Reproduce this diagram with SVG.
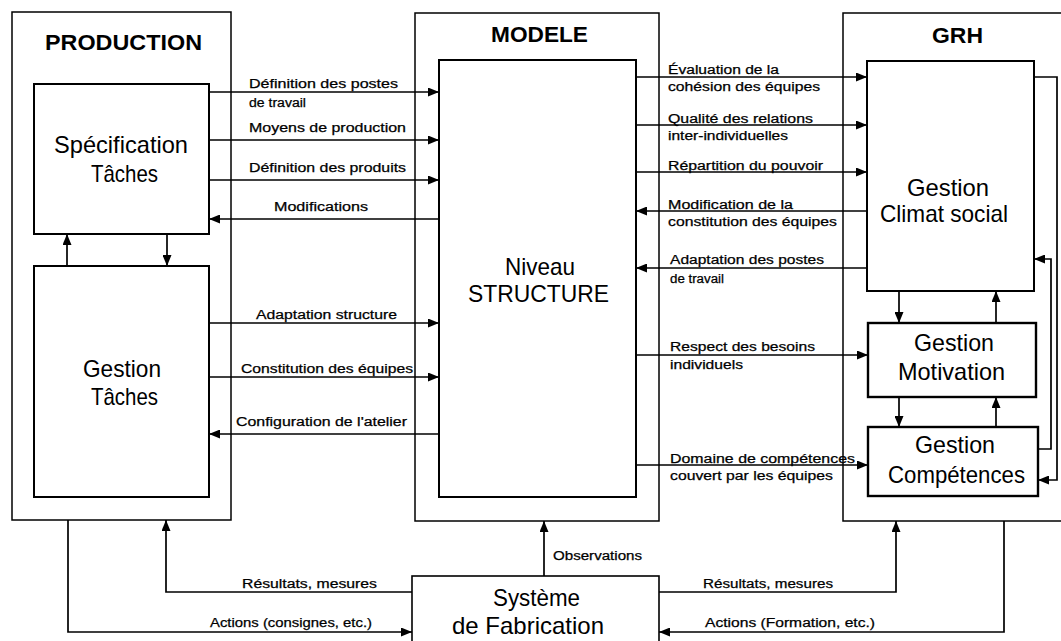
<svg xmlns="http://www.w3.org/2000/svg" width="1061" height="641" viewBox="0 0 1061 641">
<defs>
<marker id="ah" viewBox="0 0 11 9" refX="11" refY="4.5" markerWidth="11" markerHeight="9" markerUnits="userSpaceOnUse" orient="auto">
<path d="M0,0 L11,4.5 L0,9 z" fill="#000"/>
</marker>
</defs>
<style>
.outer{fill:none;stroke:#000;stroke-width:1.5}
.inner{fill:#fff;stroke:#000;stroke-width:2}
.c{fill:none;stroke:#000;stroke-width:1.7}
.a{marker-end:url(#ah)}
text{font-family:"Liberation Sans",Arial,sans-serif;fill:#000}
.lbl{font-size:12.5px;stroke:#000;stroke-width:0.25}
.big{font-size:24px}
.title{font-size:22px;font-weight:bold}
</style>
<rect width="1061" height="641" fill="#fff"/>

<g id="production">
<rect class="outer" x="12" y="12" width="219" height="508"/>
<text class="title" x="45" y="50" textLength="157" lengthAdjust="spacingAndGlyphs">PRODUCTION</text>
</g>
<g id="modele">
<rect class="outer" x="415" y="13" width="244" height="508"/>
<text class="title" x="491" y="42" textLength="97" lengthAdjust="spacingAndGlyphs">MODELE</text>
</g>
<g id="grh">
<rect class="outer" x="843" y="13" width="230" height="508"/>
<text class="title" x="932" y="43" textLength="51" lengthAdjust="spacingAndGlyphs">GRH</text>
</g>

<g id="specification-taches">
<rect class="inner" x="34" y="84" width="175" height="150"/>
<text class="big" x="54" y="153" textLength="134" lengthAdjust="spacingAndGlyphs">Spécification</text>
<text class="big" x="91" y="182" textLength="67" lengthAdjust="spacingAndGlyphs">Tâches</text>
</g>
<g id="gestion-taches">
<rect class="inner" x="34" y="266" width="175" height="231"/>
<text class="big" x="83" y="377" textLength="78" lengthAdjust="spacingAndGlyphs">Gestion</text>
<text class="big" x="91" y="405" textLength="67" lengthAdjust="spacingAndGlyphs">Tâches</text>
</g>
<g id="niveau-structure">
<rect class="inner" x="439" y="60" width="197" height="437"/>
<text class="big" x="505" y="275" textLength="70" lengthAdjust="spacingAndGlyphs">Niveau</text>
<text class="big" x="468" y="302" textLength="141" lengthAdjust="spacingAndGlyphs">STRUCTURE</text>
</g>
<g id="gestion-climat">
<rect class="inner" x="867" y="61" width="167" height="230"/>
<text class="big" x="907" y="196" textLength="82" lengthAdjust="spacingAndGlyphs">Gestion</text>
<text class="big" x="880" y="222" textLength="128" lengthAdjust="spacingAndGlyphs">Climat social</text>
</g>
<g id="gestion-motivation">
<rect class="inner" x="868" y="323" width="168" height="74" style="stroke-width:2.4"/>
<text class="big" x="914" y="351" textLength="80" lengthAdjust="spacingAndGlyphs">Gestion</text>
<text class="big" x="898" y="380" textLength="107" lengthAdjust="spacingAndGlyphs">Motivation</text>
</g>
<g id="gestion-competences">
<rect class="inner" x="868" y="427" width="170" height="69" style="stroke-width:2.4"/>
<text class="big" x="915" y="453" textLength="80" lengthAdjust="spacingAndGlyphs">Gestion</text>
<text class="big" x="888" y="483" textLength="137" lengthAdjust="spacingAndGlyphs">Compétences</text>
</g>
<g id="systeme-fabrication">
<rect class="inner" x="412" y="576" width="247" height="80" style="stroke-width:1.6"/>
<text class="big" x="493" y="606" textLength="87" lengthAdjust="spacingAndGlyphs">Système</text>
<text class="big" x="452" y="634" textLength="152" lengthAdjust="spacingAndGlyphs">de Fabrication</text>
</g>

<g id="connectors">
<path class="c a" d="M209,92 H439"/>
<path class="c a" d="M209,140 H439"/>
<path class="c a" d="M209,180 H439"/>
<path class="c a" d="M439,219 H209"/>
<path class="c a" d="M209,323 H439"/>
<path class="c a" d="M209,377 H439"/>
<path class="c a" d="M439,434 H209"/>
<path class="c a" d="M67,266 V234"/>
<path class="c a" d="M167,234 V266"/>
<path class="c a" d="M636,77 H867"/>
<path class="c a" d="M636,125 H867"/>
<path class="c a" d="M636,172 H867"/>
<path class="c a" d="M867,211 H636"/>
<path class="c a" d="M867,268 H636"/>
<path class="c a" d="M636,355 H868"/>
<path class="c a" d="M636,465 H868"/>
<path class="c a" d="M899,291 V323"/>
<path class="c a" d="M996,323 V291"/>
<path class="c a" d="M899,397 V427"/>
<path class="c a" d="M996,427 V397"/>
<path class="c a" d="M1034,77 H1057 V480 H1038"/>
<path class="c a" d="M1038,449 H1051 V259 H1034"/>
<path class="c a" d="M544,576 V521"/>
<path class="c a" d="M412,592 H166 V520"/>
<path class="c a" d="M68,520 V632 H412"/>
<path class="c a" d="M659,592 H896 V521"/>
<path class="c a" d="M1004,521 V632 H659"/>

<g class="labels">
<text class="lbl" x="249" y="88" textLength="149" lengthAdjust="spacingAndGlyphs">Définition des postes</text>
<text class="lbl" x="249" y="107" textLength="57" lengthAdjust="spacingAndGlyphs">de travail</text>
<text class="lbl" x="249" y="132" textLength="157" lengthAdjust="spacingAndGlyphs">Moyens de production</text>
<text class="lbl" x="249" y="172" textLength="157" lengthAdjust="spacingAndGlyphs">Définition des produits</text>
<text class="lbl" x="274" y="211" textLength="94" lengthAdjust="spacingAndGlyphs">Modifications</text>
<text class="lbl" x="256" y="319" textLength="141" lengthAdjust="spacingAndGlyphs">Adaptation structure</text>
<text class="lbl" x="241" y="373" textLength="172" lengthAdjust="spacingAndGlyphs">Constitution des équipes</text>
<text class="lbl" x="236" y="426" textLength="171" lengthAdjust="spacingAndGlyphs">Configuration de l'atelier</text>

<text class="lbl" x="668" y="74" textLength="111" lengthAdjust="spacingAndGlyphs">Évaluation de la</text>
<text class="lbl" x="668" y="91" textLength="152" lengthAdjust="spacingAndGlyphs">cohésion des équipes</text>
<text class="lbl" x="668" y="123" textLength="145" lengthAdjust="spacingAndGlyphs">Qualité des relations</text>
<text class="lbl" x="668" y="140" textLength="120" lengthAdjust="spacingAndGlyphs">inter-individuelles</text>
<text class="lbl" x="668" y="170" textLength="155" lengthAdjust="spacingAndGlyphs">Répartition du pouvoir</text>
<text class="lbl" x="668" y="209" textLength="125" lengthAdjust="spacingAndGlyphs">Modification de la</text>
<text class="lbl" x="668" y="226" textLength="169" lengthAdjust="spacingAndGlyphs">constitution des équipes</text>
<text class="lbl" x="670" y="264" textLength="154" lengthAdjust="spacingAndGlyphs">Adaptation des postes</text>
<text class="lbl" x="670" y="283" textLength="54" lengthAdjust="spacingAndGlyphs">de travail</text>
<text class="lbl" x="670" y="351" textLength="145" lengthAdjust="spacingAndGlyphs">Respect des besoins</text>
<text class="lbl" x="670" y="369" textLength="73" lengthAdjust="spacingAndGlyphs">individuels</text>
<text class="lbl" x="670" y="463" textLength="185" lengthAdjust="spacingAndGlyphs">Domaine de compétences</text>
<text class="lbl" x="670" y="480" textLength="163" lengthAdjust="spacingAndGlyphs">couvert par les équipes</text>

<text class="lbl" x="553" y="560" textLength="89" lengthAdjust="spacingAndGlyphs">Observations</text>
<text class="lbl" x="242" y="588" textLength="135" lengthAdjust="spacingAndGlyphs">Résultats, mesures</text>
<text class="lbl" x="210" y="627" textLength="162" lengthAdjust="spacingAndGlyphs">Actions (consignes, etc.)</text>
<text class="lbl" x="703" y="588" textLength="130" lengthAdjust="spacingAndGlyphs">Résultats, mesures</text>
<text class="lbl" x="705" y="627" textLength="170" lengthAdjust="spacingAndGlyphs">Actions (Formation, etc.)</text>
</g>
</g>
</svg>
